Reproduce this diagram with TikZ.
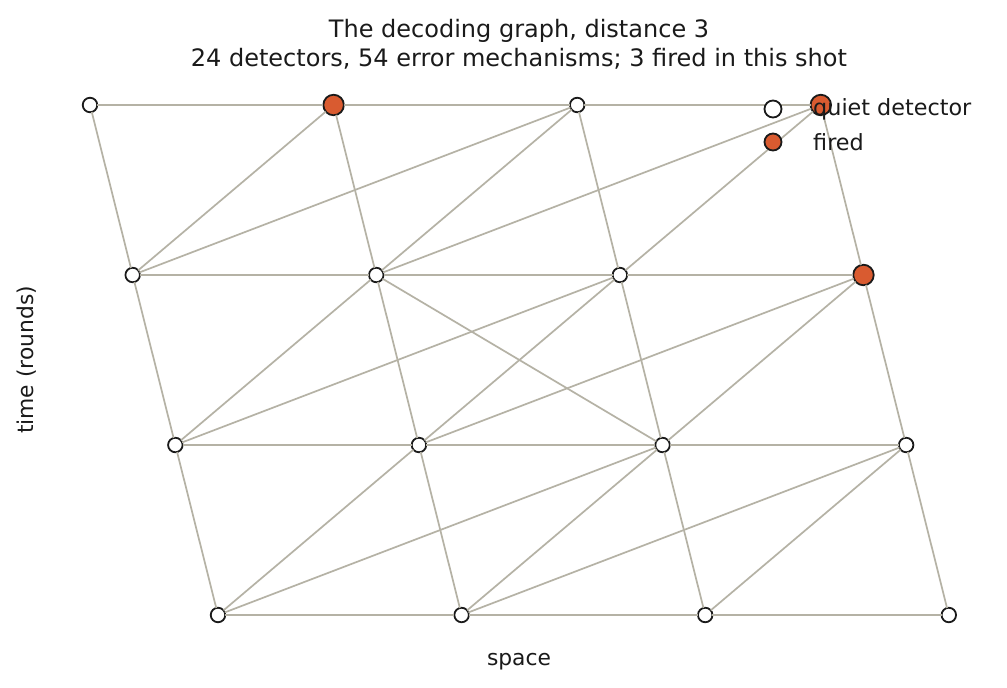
\documentclass[tikz,border=0pt]{standalone}
\usepackage{fontspec}
\setmainfont{DejaVu Sans}
\usetikzlibrary{positioning}

\definecolor{ink}{HTML}{1A1A1A}
\definecolor{edgec}{HTML}{B5B2A5}
\definecolor{firedc}{HTML}{D95B30}

\tikzset{
  det/.style={circle, draw=ink, fill=white, line width=1.8pt, minimum size=14.5pt, inner sep=0pt, outer sep=0pt},
  hit/.style={det, fill=firedc, minimum size=20.5pt},
  edge/.style={draw=edgec, line width=1.7pt},
  lbl/.style={text=ink, inner sep=0pt}
}

\begin{document}
\begin{tikzpicture}[x=1pt, y=-1pt]
    \useasboundingbox[fill=white] (0,0) rectangle (1007,688);
    % detectors: row r (time), column c (space)
    \foreach \r/\c in {1/1,1/3,2/1,2/2,2/3,3/1,3/2,3/3,3/4,4/1,4/2,4/3,4/4}
      {\node[det] (d\r\c) at ({90+243.6*(\c-1)+42.67*(\r-1)},{105+170*(\r-1)}) {};}
    \foreach \r/\c in {1/2,1/4,2/4}
      {\node[hit] (d\r\c) at ({90+243.6*(\c-1)+42.67*(\r-1)},{105+170*(\r-1)}) {};}
    % space edges and time edges
    \foreach \r in {1,2,3,4}
      \foreach \c/\n in {1/2,2/3,3/4} {\draw[edge] (d\r\c)--(d\r\n);}
    \foreach \c in {1,2,3,4}
      \foreach \r/\n in {1/2,2/3,3/4} {\draw[edge] (d\r\c)--(d\n\c);}
    % diagonal edges
    \foreach \a/\b in {21/12,21/13,22/13,22/14,23/14,31/22,31/23,32/23,32/24,33/24,41/32,41/33,42/33,42/34,43/34,22/33}
      {\draw[edge] (d\a)--(d\b);}
    % legend
    \node[det, minimum size=17pt] (kq) at (773,109) {};
    \node[det, fill=firedc, minimum size=17pt] (kf) at (773,142) {};
    \node[lbl, anchor=west, right=40pt of kq.center, font=\fontsize{22.3}{26}\selectfont] (tq) {quiet detector};
    \node[lbl, anchor=west, right=40pt of kf.center, font=\fontsize{22.3}{26}\selectfont] (tf) {fired};
    % title and axis labels
    \node[lbl, align=center, font=\fontsize{24}{29}\selectfont] (title) at (519,44)
      {The decoding graph, distance 3\\ 24 detectors, 54 error mechanisms; 3 fired in this shot};
    \node[lbl, font=\fontsize{21.8}{26}\selectfont] (xl) at (519,662) {space};
    \node[lbl, rotate=90, font=\fontsize{21.8}{26}\selectfont] (yl) at (27,360) {time (rounds)};
\end{tikzpicture}
\end{document}
